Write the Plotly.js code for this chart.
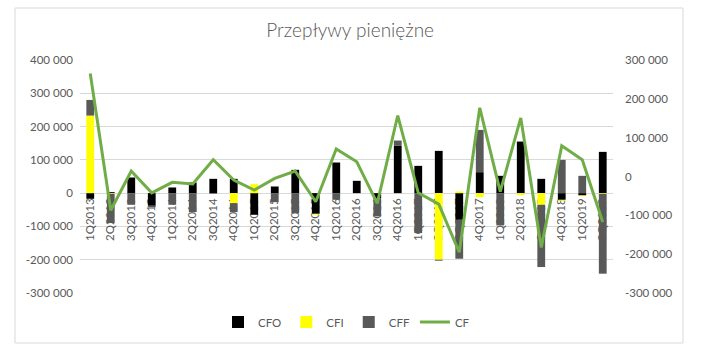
<!DOCTYPE html>
<html>
<head>
<meta charset="utf-8">
<script src="https://cdn.plot.ly/plotly-3.0.1.min.js"></script>
<style>html,body{margin:0;padding:0;background:#fff;}#chart{width:719px;height:352px;}</style>
</head>
<body>
<div id="chart"></div>
<script>
const quarters = ["1Q2013","2Q2013","3Q2013","4Q2013","1Q2014","2Q2014","3Q2014","4Q2014",
  "1Q2015","2Q2015","3Q2015","4Q2015","1Q2016","2Q2016","3Q2016","4Q2016",
  "1Q2017","2Q2017","3Q2017","4Q2017","1Q2018","2Q2018","3Q2018","4Q2018","1Q2019","2Q2019"];
const cfo = [-17000, 3000, 47000, -38000, 17000, 32000, 43000, 43000, -65000, 20000, 70000, -62000, 92000, 37000, -15000, 142000,
  82000, 127000, -80000, 63000, 52000, 155000, 43000, -20000, -7000, 124000];
const cfi = [233000, -2000, 0, 0, 0, 0, 0, -30000, 27000, 0, 0, -3000, 0, 0, 0, 0,
  0, -200000, 5000, -12000, 0, -6000, -35000, -3000, -2000, -2000];
const cff = [47000, -88000, -35000, -4000, -35000, -57000, -2000, -27000, 0, -27000, -60000, 0, -20000, 0, -55000, 16000,
  -120000, -3000, -117000, 127000, -97000, 0, -187000, 100000, 52000, -240000];
const cf = [265000, -87000, 14000, -42000, -15000, -19000, 43000, -9000, -35000, -5000, 14000, -65000, 71000, 38000, -69000, 157000,
  -42000, -71000, -195000, 177000, -39000, 151000, -183000, 79000, 43000, -117000];

const leftTicks = [-300000, -200000, -100000, 0, 100000, 200000, 300000, 400000];
const leftTickText = ["-300 000", "-200 000", "-100 000", "0", "100 000", "200 000", "300 000", "400 000"];
const rightTicks = [-300000, -200000, -100000, 0, 100000, 200000, 300000];
const rightTickText = ["-300 000", "-200 000", "-100 000", "0", "100 000", "200 000", "300 000"];

const FONT = "Lato, 'Liberation Sans', sans-serif";
const GREY = "#595959";

const traces = [
  {type: "bar", name: "CFO", x: quarters, y: cfo, marker: {color: "#000000"}},
  {type: "bar", name: "CFI", x: quarters, y: cfi, marker: {color: "#FFFF00"}},
  {type: "bar", name: "CFF", x: quarters, y: cff, marker: {color: "#595959"}},
  {type: "scatter", mode: "lines", name: "CF", x: quarters, y: cf, yaxis: "y2",
   line: {color: "#70AD47", width: 3}}
];

const layout = {
  width: 719, height: 352,
  margin: {l: 80, r: 106, t: 60, b: 59},
  paper_bgcolor: "#ffffff", plot_bgcolor: "#ffffff",
  barmode: "relative", bargap: 0.62,
  font: {family: FONT, size: 11.5, color: GREY},
  title: {text: "Przepływy pieniężne", font: {family: FONT, size: 19, color: GREY, weight: 300},
          x: 0.487, xanchor: "center", y: 1 - 30/352, yanchor: "middle", yref: "container"},
  xaxis: {type: "category", anchor: "free", position: 3/7, layer: "below traces",
          tickangle: -90, showgrid: false, showline: false, ticks: "", zeroline: false,
          tickfont: {family: FONT, size: 11.5, color: GREY}, ticklabelstandoff: 2},
  yaxis: {range: [-300000, 400000], tickvals: leftTicks, ticktext: leftTickText,
          showgrid: true, gridcolor: "#D9D9D9", gridwidth: 1, zeroline: false, showline: false,
          ticks: "", ticklabelstandoff: 6, tickfont: {family: FONT, size: 11.5, color: GREY}},
  yaxis2: {overlaying: "y", side: "right", range: [-300000, 300000], tickvals: rightTicks, ticktext: rightTickText,
           showgrid: false, zeroline: false, showline: false, ticks: "", ticklabelstandoff: 11,
           tickfont: {family: FONT, size: 11.5, color: GREY}},
  showlegend: true,
  legend: {orientation: "h", x: 0.5, xanchor: "center", y: (293 - 322) / 233, yanchor: "middle",
           font: {family: FONT, size: 11.5, color: GREY}, bgcolor: "rgba(0,0,0,0)"},
  shapes: [{type: "rect", xref: "paper", yref: "paper", layer: "below",
            x0: (15 - 80) / 533, x1: (683 - 80) / 533, y0: (293 - 343) / 233, y1: (293 - 8) / 233,
            line: {color: "#D9D9D9", width: 1}, fillcolor: "rgba(0,0,0,0)"}]
};

Plotly.newPlot("chart", traces, layout, {staticPlot: true, displayModeBar: false});
</script>
</body>
</html>
